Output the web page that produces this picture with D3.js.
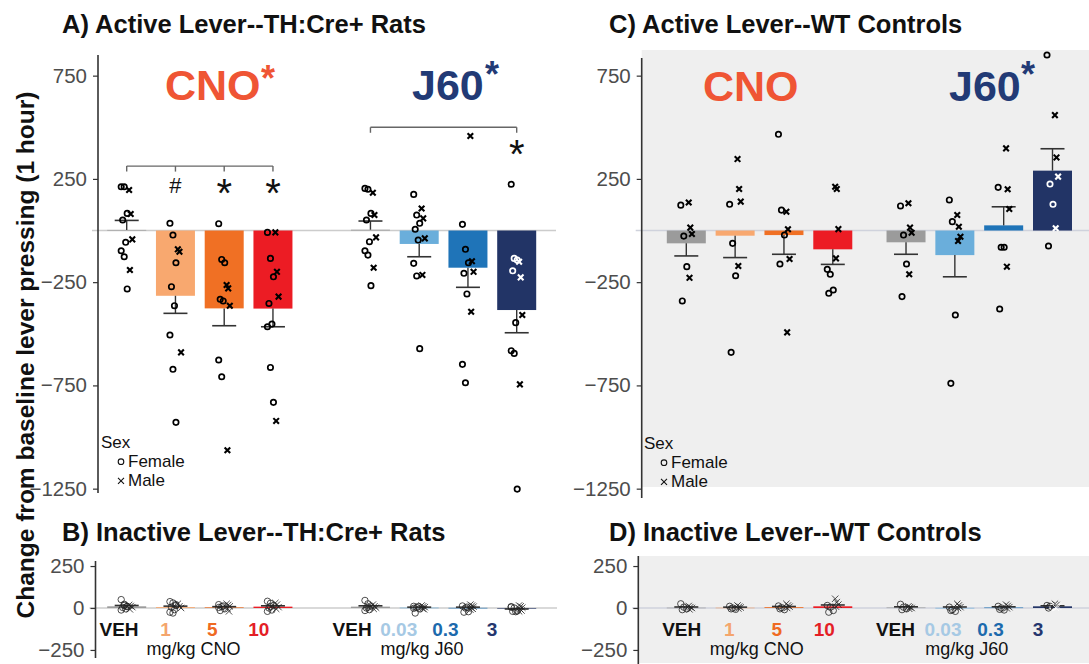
<!DOCTYPE html>
<html><head><meta charset="utf-8">
<script src="https://cdn.jsdelivr.net/npm/d3@7"></script>
<style>
body{margin:0;background:#fff}
svg{display:block;font-family:Arial,"Liberation Sans",sans-serif}
</style>
</head><body>
<svg id="chart" width="1089" height="664"></svg>
<script>
// ---------- DATA ----------
const doseLabels = ["VEH","1","5","10","VEH","0.03","0.3","3"];
const drugNames = ["mg/kg CNO","mg/kg J60"];
const ticksActive = [750,250,-250,-750,-1250];
const ticksInactive = [250,0,-250];

// A) Active lever, TH:Cre+ rats
const A_mean = [3,-316,-377,-378,4,-65,-180,-385];
const A_se   = [46,85,84,88,42,62,95,110];
const A_female = [
  [212,212,83,51,-57,-98,-127,-283],
  [35,-22,-156,-272,-364,-506,-672,-929],
  [33,-140,-156,-333,-341,-627,-708],
  [-9,-135,-224,-353,-453,-466,-663,-832],
  [204,200,83,51,-54,-98,-119,-267],
  [175,75,35,6,-46,-159,-220,-572],
  [30,-91,-156,-207,-307,-648,-737],
  [224,-135,-143,-195,-446,-582,-595,-1252]
];
const A_male = [
  [196,80,-43,-191],
  [-91,-103,-590],
  [-264,-280,-364,-1064],
  [-9,-200,-320,-922],
  [183,75,-33,-180],
  [107,59,-38,-215],
  [458,-149,-200,-393],
  [-151,-227,-409,-745]
];

// C) Active lever, WT controls
const C_mean = [-62,-25,-22,-91,-57,-119,25,290];
const C_se   = [61,106,93,73,58,105,90,106];
const C_female = [
  [123,-27,-175,-341],
  [127,-62,-219,-590],
  [466,99,-22,-162],
  [-188,-212,-288,-304],
  [119,-22,-162,-320],
  [148,43,-409,-740],
  [209,-81,-81,-380],
  [850,225,127,-75]
];
const C_male = [
  [136,14,-17,-229],
  [346,201,140,-172],
  [91,6,-138,-493],
  [212,201,7,-135],
  [132,14,-11,-212],
  [75,18,-30,-51],
  [398,200,104,-175],
  [559,354,261,11]
];

// B) Inactive lever, TH:Cre+ rats
const B_mean = [10,5,4,8,8,2,1,-3];
const B_se   = [5,6,4,5,5,3,4,3];
const B_female = [
  [50,22,10,3,-5,-12,15,8],
  [38,30,15,5,-10,-25,-30,20],
  [20,8,-5,-15,12,3],
  [40,28,15,0,-12,-20,8],
  [45,25,12,0,-10,-15,5],
  [10,3,-5,-30,8,-2],
  [12,0,-22,-25,5],
  [8,0,-18,-20,-22,5]
];
const B_male = [
  [18,12,5,-8],
  [25,10,0],
  [25,18,10,-2,-20],
  [30,20,5,-5],
  [20,10,2,-5],
  [15,10,5,-3,-8],
  [20,14,8,2,-5,-10],
  [15,10,2,-5,-15,-20]
];

// D) Inactive lever, WT controls
const D_mean = [2,2,5,10,3,1,3,10];
const D_se   = [4,3,4,8,4,5,4,3];
const D_female = [
  [25,5,-5,-10],[10,0,-8,-5],[12,2,-10,-5],[15,5,-15,-25],
  [22,5,-5,-10],[5,-10,-20,-15],[10,0,-12,-8],[15,10,5,0]
];
const D_male = [
  [12,5,0,-8],[15,8,3,-3],[25,15,8,0],[55,35,20,8],
  [10,5,0,-5],[25,15,5,0],[20,12,5,-2],[25,18,8,2]
];

// significance annotations (values on the y scale)
const A_brackets = [
  {from:0,to:3,value:312,ticks:[0,1,2,3]},
  {from:4,to:7,value:500,ticks:[4,7]}
];
const A_marks = [
  {group:1,sym:"#",value:220},
  {group:2,sym:"*",value:220},
  {group:3,sym:"*",value:220},
  {group:7,sym:"*",value:410}
];

// ---------- STYLE / LAYOUT ----------
const barColors = ["#9b9b9b","#f8a86f","#f07024","#ec1c24","#9b9b9b","#6aaedb","#1f74b8","#223466"];
const labelColors = ["#111","#f4a56c","#ef6a22","#e41e26","#111","#a6c9e4","#1c6aad","#25366e"];
const cnoColor = "#ef5534", j60Color = "#223a75";

const svg = d3.select("#chart");

function jitter(i, sex){
  const j = ((i*7)%5 - 2)/2;        // deterministic spread in [-1,1]
  return sex==="F" ? -2.5 + j*3 : 4 + j*1.6;
}

function drawPanel(cfg){
  const g = svg.append("g");
  const x = d3.scaleLinear().domain(cfg.xDomain).range(cfg.xRange);
  const y = d3.scaleLinear().domain(cfg.yDomain).range(cfg.yRange);
  const cx = i => x(cfg.slots[i]);
  const bw = 39;

  if(cfg.bg){
    g.append("rect").attr("x",cfg.axisX).attr("y",cfg.bg[0]).attr("width",1089-cfg.axisX)
      .attr("height",cfg.bg[1]-cfg.bg[0]).attr("fill","#efefef");
  }
  // zero line
  g.append("line").attr("x1",cfg.axisX-6).attr("x2",cfg.zeroEnd).attr("y1",y(0)).attr("y2",y(0))
    .attr("stroke",cfg.bg?"#cfd2dc":"#cccccc").attr("stroke-width",1.5);

  // y axis
  const axis = d3.axisLeft(y).tickValues(cfg.ticks).tickSize(5).tickPadding(6)
    .tickFormat(d=> d<0 ? "\u2212"+Math.abs(d) : d);
  const ag = g.append("g").attr("transform",`translate(${cfg.axisX},0)`).call(axis);
  ag.select(".domain").remove();
  ag.selectAll(".tick line").attr("stroke","#333").attr("stroke-width",1.2);
  ag.selectAll(".tick text").attr("fill","#4d4d4d").attr("font-size",20.5);
  g.append("line").attr("x1",cfg.axisX).attr("x2",cfg.axisX).attr("y1",cfg.axisLine[0]).attr("y2",cfg.axisLine[1])
    .attr("stroke","#333").attr("stroke-width",1.6);

  // bars
  g.selectAll("rect.bar").data(cfg.mean).join("rect").attr("class","bar")
    .attr("x",(d,i)=>cx(i)-bw/2).attr("width",bw)
    .attr("y",d=>Math.min(y(d),y(0))).attr("height",d=>Math.max(0.6,Math.abs(y(d)-y(0))))
    .attr("fill",(d,i)=>barColors[i]);

  // error bars (one-sided, away from zero)
  cfg.mean.forEach((m,i)=>{
    const end = m>=0 ? m+cfg.se[i] : m-cfg.se[i];
    g.append("line").attr("x1",cx(i)).attr("x2",cx(i)).attr("y1",y(m)).attr("y2",y(end))
      .attr("stroke","#333").attr("stroke-width",1.4);
    g.append("line").attr("x1",cx(i)-12).attr("x2",cx(i)+12).attr("y1",y(end)).attr("y2",y(end))
      .attr("stroke","#333").attr("stroke-width",1.6);
  });

  // points
  const thin = cfg.thin;
  const r = thin?3.2:2.7, sw = thin?0.8:1.7, hs = thin?3.2:2.8, swx = thin?0.8:2.1;
  const ptColor = (i,v)=>{
    const inside = (cfg.mean[i]<0 && v<0 && v>cfg.mean[i]) || (cfg.mean[i]>0 && v>0 && v<cfg.mean[i]);
    return (inside && i===7) ? "#fff" : (thin?"#222":"#000");
  };
  cfg.female.forEach((arr,i)=>arr.forEach((v,k)=>{
    g.append("circle").attr("cx",cx(i)+jitter(k,"F")).attr("cy",y(v)).attr("r",r)
      .attr("fill","none").attr("stroke",ptColor(i,v)).attr("stroke-width",sw);
  }));
  cfg.male.forEach((arr,i)=>arr.forEach((v,k)=>{
    const px = cx(i)+jitter(k,"M"), py = y(v);
    g.append("path").attr("d",`M${px-hs},${py-hs}L${px+hs},${py+hs}M${px-hs},${py+hs}L${px+hs},${py-hs}`)
      .attr("stroke",ptColor(i,v)).attr("stroke-width",swx).attr("fill","none");
  }));

  // brackets and marks
  (cfg.brackets||[]).forEach(b=>{
    const yy = y(b.value);
    g.append("line").attr("x1",cx(b.from)).attr("x2",cx(b.to)).attr("y1",yy).attr("y2",yy)
      .attr("stroke","#666").attr("stroke-width",1.4);
    b.ticks.forEach(t=>g.append("line").attr("x1",cx(t)).attr("x2",cx(t)).attr("y1",yy).attr("y2",yy+5.5)
      .attr("stroke","#666").attr("stroke-width",1.4));
  });
  (cfg.marks||[]).forEach(m=>{
    if(m.sym==="*"){
      g.append("text").attr("x",cx(m.group)).attr("y",y(m.value)+22).attr("text-anchor","middle")
        .attr("font-size",40).attr("fill","#111").text("*");
    } else {
      g.append("text").attr("x",cx(m.group)).attr("y",y(m.value)+8).attr("text-anchor","middle")
        .attr("font-size",22).attr("fill","#111").text(m.sym);
    }
  });
  return {g,x,y,cx};
}

// label rows
function drawLabels(cfg){
  const lx = d3.scaleLinear().domain(cfg.domain).range(cfg.range);
  doseLabels.forEach((t,i)=>{
    svg.append("text").attr("x",lx(cfg.slots[i])).attr("y",636).attr("text-anchor","middle")
      .attr("font-size",19).attr("font-weight","bold").attr("fill",labelColors[i]).text(t);
  });
  drugNames.forEach((t,i)=>{
    svg.append("text").attr("x",lx(cfg.drugSlots[i])).attr("y",655).attr("text-anchor","middle")
      .attr("font-size",18).attr("fill","#111").text(t);
  });
}

const slotsTH = [0,1,2,3,5,6,7,8];
const slotsWT = [0,1,2,3,4.5,5.5,6.5,7.5];

drawPanel({axisX:641.7, xDomain:[0,7.5], xRange:[686.3,1052.5], slots:slotsWT,
  yDomain:[-1271,850], yRange:[493,55], ticks:ticksActive, axisLine:[58,498], bg:[50,487], zeroEnd:1089,
  mean:C_mean, se:C_se, female:C_female, male:C_male});
drawPanel({axisX:98, xDomain:[0,8], xRange:[126.7,516.7], slots:slotsTH,
  yDomain:[-1271,850], yRange:[493,55], ticks:ticksActive, axisLine:[55,493], zeroEnd:556,
  mean:A_mean, se:A_se, female:A_female, male:A_male, brackets:A_brackets, marks:A_marks});
drawPanel({axisX:95.5, xDomain:[0,8], xRange:[126.7,516.7], slots:slotsTH,
  yDomain:[-298,280], yRange:[658,561], ticks:ticksInactive, axisLine:[561,658], zeroEnd:557, thin:true,
  mean:B_mean, se:B_se, female:B_female, male:B_male});
drawPanel({axisX:638.3, xDomain:[0,7.5], xRange:[686.3,1052.5], slots:slotsWT,
  yDomain:[-298,280], yRange:[658,561], ticks:ticksInactive, axisLine:[556,664], bg:[556,663], zeroEnd:1089, thin:true,
  mean:D_mean, se:D_se, female:D_female, male:D_male});

drawLabels({domain:[0,8], range:[119,492], slots:slotsTH, drugSlots:[1.6,6.5]});
drawLabels({domain:[0,7.5], range:[681.7,1038], slots:slotsWT, drugSlots:[1.58,6.0]});

// titles
const titles = [
  {t:"A) Active Lever--TH:Cre+ Rats", x:62, y:33},
  {t:"C) Active Lever--WT Controls", x:609, y:33},
  {t:"B) Inactive Lever--TH:Cre+ Rats", x:62, y:541},
  {t:"D) Inactive Lever--WT Controls", x:609, y:541}
];
titles.forEach(d=>svg.append("text").attr("x",d.x).attr("y",d.y).attr("font-size",25.5)
  .attr("font-weight","bold").attr("fill","#111").text(d.t));

// y-axis title
svg.append("text").attr("transform","translate(33.5,355) rotate(-90)").attr("text-anchor","middle")
  .attr("font-size",24.5).attr("font-weight","bold").attr("fill","#111")
  .text("Change from baseline lever pressing (1 hour)");

// drug headers
function header(x,y,txt,color,star,sx,sy){
  svg.append("text").attr("x",x).attr("y",y).attr("font-size",43).attr("font-weight","bold")
    .attr("fill",color).text(txt);
  if(star) svg.append("text").attr("x",sx).attr("y",sy).attr("font-size",36).attr("font-weight","bold")
    .attr("fill",color).text("*");
}
header(165,100,"CNO",cnoColor,true,261,91);
header(412,100,"J60",j60Color,true,485,87);
header(703,101,"CNO",cnoColor,false);
header(949,101,"J60",j60Color,true,1021,87);

// legends
function legend(x,y){
  const fs = 17, step = 19.2;
  svg.append("text").attr("x",x).attr("y",y).attr("font-size",fs).attr("fill","#111").text("Sex");
  svg.append("circle").attr("cx",x+20).attr("cy",y+step-5.5).attr("r",2.8).attr("fill","none")
    .attr("stroke","#111").attr("stroke-width",1.1);
  svg.append("text").attr("x",x+27).attr("y",y+step).attr("font-size",fs).attr("fill","#111").text("Female");
  const px=x+20, py=y+2*step-5.5, h=3;
  svg.append("path").attr("d",`M${px-h},${py-h}L${px+h},${py+h}M${px-h},${py+h}L${px+h},${py-h}`)
    .attr("stroke","#111").attr("stroke-width",1.1);
  svg.append("text").attr("x",x+27).attr("y",y+2*step).attr("font-size",fs).attr("fill","#111").text("Male");
}
legend(101,448);
legend(644,449);
</script>
</body></html>
